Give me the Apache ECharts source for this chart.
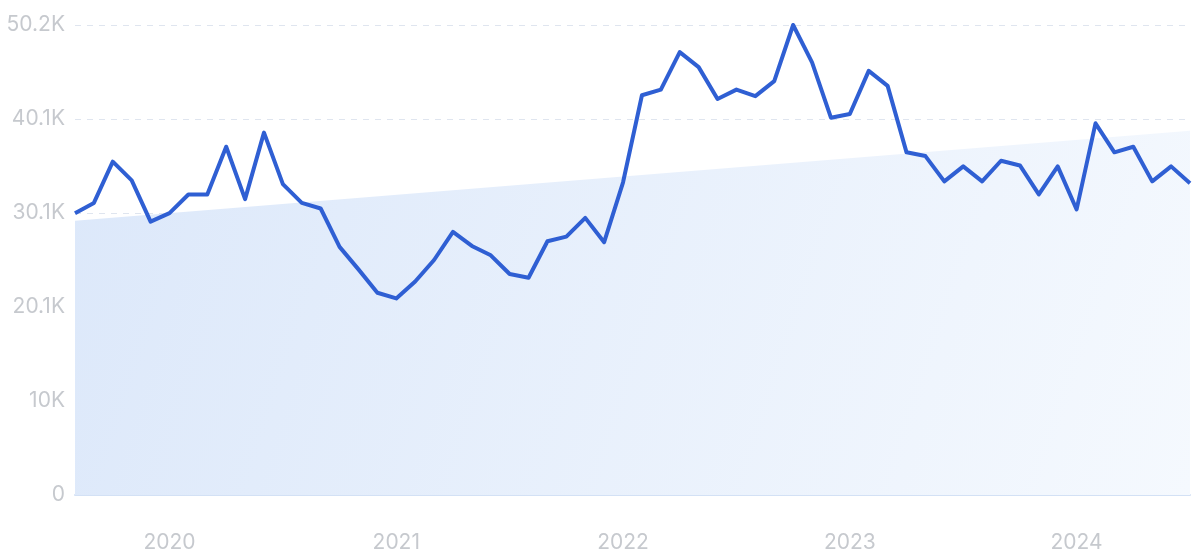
<!DOCTYPE html>
<html>
<head>
<meta charset="utf-8">
<script src="https://cdn.jsdelivr.net/npm/echarts@6/dist/echarts.min.js"></script>
<style>
html,body{margin:0;padding:0;background:#fff;}
#chart{width:1200px;height:559px;}
</style>
</head>
<body>
<div id="chart"></div>
<script>
const months = ['2019-08','2019-09','2019-10','2019-11','2019-12',
  '2020-01','2020-02','2020-03','2020-04','2020-05','2020-06','2020-07','2020-08','2020-09','2020-10','2020-11','2020-12',
  '2021-01','2021-02','2021-03','2021-04','2021-05','2021-06','2021-07','2021-08','2021-09','2021-10','2021-11','2021-12',
  '2022-01','2022-02','2022-03','2022-04','2022-05','2022-06','2022-07','2022-08','2022-09','2022-10','2022-11','2022-12',
  '2023-01','2023-02','2023-03','2023-04','2023-05','2023-06','2023-07','2023-08','2023-09','2023-10','2023-11','2023-12',
  '2024-01','2024-02','2024-03','2024-04','2024-05','2024-06','2024-07'];
const traffic = [30100,31200,35600,33600,29200,
  30100,32100,32100,37200,31600,38700,33200,31200,30600,26500,24100,21600,
  21000,22800,25100,28100,26600,25600,23600,23200,27100,27600,29600,27000,
  33400,42700,43300,47300,45700,42300,43300,42600,44200,50200,46200,40300,
  40700,45300,43700,36600,36200,33500,35100,33500,35700,35200,32100,35100,
  30500,39700,36600,37200,33500,35100,33300];
const trendStart = 29300;
const trendEnd = 38900;
const yTickLabels = ['0','10K','20.1K','30.1K','40.1K','50.2K'];
const yMax = 50200;
const yStep = 10040;

const chart = echarts.init(document.getElementById('chart'));
chart.setOption({
  animation:false,
  grid:{left:75,right:10,top:25,bottom:64},
  xAxis:{
    type:'category',
    data:months,
    boundaryGap:false,
    axisLine:{show:true,lineStyle:{color:'#d3e1f5',width:2}},
    axisTick:{show:false},
    axisLabel:{
      interval:function(i,v){return v.slice(5)==='01';},
      formatter:function(v){return v.slice(0,4);},
      color:'#c6c9ce',fontSize:21,fontFamily:'Inter, Roboto, sans-serif',margin:37
    },
    splitLine:{show:false}
  },
  yAxis:{
    type:'value',min:0,max:yMax,interval:yStep,
    axisLine:{show:false},axisTick:{show:false},
    axisLabel:{
      formatter:function(v,i){return yTickLabels[Math.round(v/yStep)];},
      color:'#c6c9ce',fontSize:21,fontFamily:'Inter, Roboto, sans-serif',margin:10
    },
    splitLine:{show:true,lineStyle:{color:'#dfe5ef',type:[6,6],width:1}}
  },
  series:[
    {
      type:'line',
      data:[[months[0],trendStart],[months[months.length-1],trendEnd]],
      symbol:'none',
      lineStyle:{width:0,opacity:0},
      areaStyle:{
        opacity:1,
        color:new echarts.graphic.LinearGradient(0,0,1,1,[
          {offset:0,color:'#dce8fa'},
          {offset:1,color:'#f5f9fe'}
        ])
      },
      z:1
    },
    {
      type:'line',
      data:traffic,
      symbol:'none',
      lineStyle:{color:'#2f5fd3',width:4,join:'round'},
      z:3
    }
  ]
});
</script>
</body>
</html>
